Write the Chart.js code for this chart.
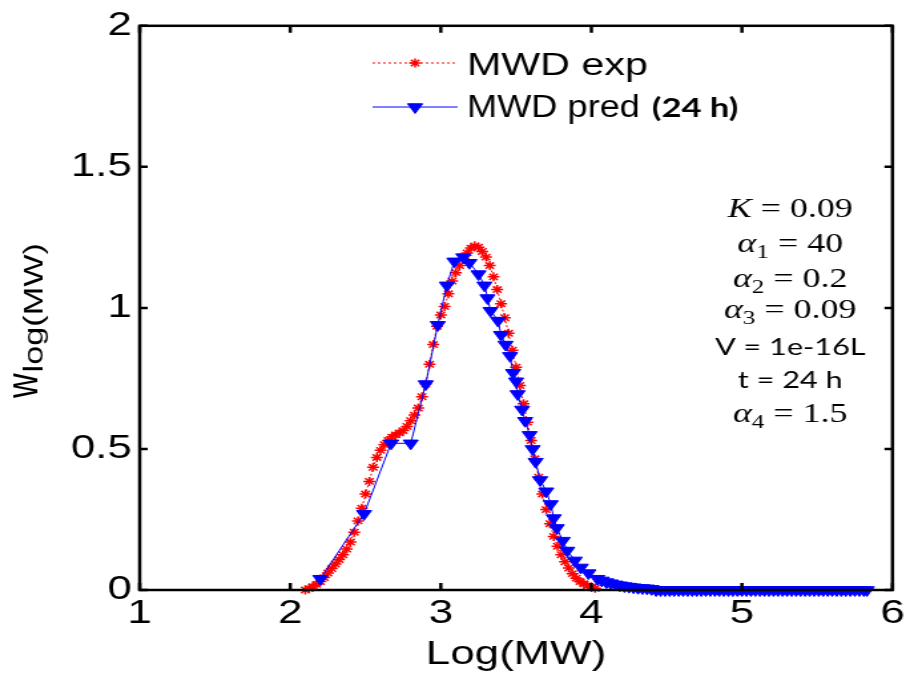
<!DOCTYPE html>
<html>
<head>
<meta charset="utf-8">
<script src="https://cdn.jsdelivr.net/npm/chart.js@4/dist/chart.umd.min.js"></script>
<style>
  html, body { margin:0; padding:0; background:#fff; overflow:hidden; }
  /* the figure is a horizontally stretched MATLAB plot: draw narrow, stretch with CSS */
  #wrap { width:684px; height:675px; transform:scaleX(1.3304); transform-origin:0 0; }
</style>
</head>
<body>
<div id="wrap"><canvas id="c"></canvas></div>
<script>
/* ── data ─────────────────────────────────────────────── */
const X_TICKS = [1, 2, 3, 4, 5, 6];
const Y_TICKS = [0, 0.5, 1, 1.5, 2];

// MWD exp (red asterisks)
const expX = [2.100,2.125,2.150,2.175,2.200,2.225,2.250,2.275,2.300,2.325,2.350,2.375,2.400,2.425,2.450,2.475,
  2.500,2.525,2.550,2.575,2.600,2.625,2.650,2.675,2.700,2.725,2.750,2.775,2.800,2.825,2.850,2.875,
  2.900,2.925,2.950,2.975,3.000,3.025,3.050,3.075,3.100,3.125,3.150,3.175,3.200,3.225,3.250,3.275,
  3.300,3.325,3.350,3.375,3.400,3.425,3.450,3.475,3.500,3.525,3.550,3.575,3.600,3.625,3.650,3.675,
  3.700,3.725,3.750,3.775,3.800,3.825,3.850,3.875,3.900,3.925,3.950,3.975,4.000,4.025];
const expY = [0.000,0.005,0.012,0.020,0.030,0.044,0.060,0.076,0.092,0.108,0.125,0.145,0.170,0.205,0.245,0.290,
  0.340,0.385,0.435,0.470,0.495,0.515,0.530,0.542,0.550,0.557,0.565,0.580,0.600,0.620,0.645,0.685,
  0.730,0.800,0.870,0.935,0.975,1.005,1.050,1.095,1.125,1.150,1.175,1.195,1.212,1.220,1.215,1.200,
  1.180,1.150,1.110,1.065,1.015,0.965,0.910,0.850,0.790,0.725,0.660,0.595,0.530,0.465,0.400,0.340,
  0.285,0.235,0.190,0.155,0.125,0.100,0.078,0.058,0.042,0.030,0.022,0.015,0.010,0.006];

// MWD pred (24 h) (blue down-triangles)
const predX = [2.20,2.49,2.67,2.80,2.90,2.98,3.04,3.09,3.15,3.19,3.25,3.29,3.31,3.33,3.38,3.40,3.43,3.46,
  3.48,3.50,3.51,3.54,3.56,3.59,3.61,3.63,3.66,3.70,3.73,3.75,3.77,3.81,3.84,3.89,3.93,3.98,4.04,
  4.07,4.10,4.13,4.16,4.19,4.22,4.25,4.28,4.31,4.34,4.37,4.40,
  4.43,4.46,4.49,4.52,4.55,4.58,4.61,4.64,4.67,4.70,4.73,4.76,4.79,4.82,4.85,4.88,4.91,4.94,4.97,
  5.00,5.03,5.06,5.09,5.12,5.15,5.18,5.21,5.24,5.27,5.30,5.33,5.36,5.39,5.42,5.45,5.48,5.51,5.54,
  5.57,5.60,5.63,5.66,5.69,5.72,5.75,5.78,5.81,5.83];
const predY = [0.04,0.27,0.52,0.52,0.73,0.94,1.08,1.165,1.18,1.16,1.12,1.08,1.035,0.99,0.955,0.905,0.87,0.83,
  0.77,0.74,0.695,0.64,0.60,0.55,0.50,0.455,0.39,0.35,0.305,0.255,0.22,0.175,0.14,0.105,0.08,0.06,0.04,
  0.034,0.028,0.024,0.020,0.017,0.014,0.012,0.010,0.008,0.007,0.006,0.004,
  0,0,0,0,0,0,0,0,0,0,0,0,0,0,0,0,0,0,0,
  0,0,0,0,0,0,0,0,0,0,0,0,0,0,0,0,0,0,0,
  0,0,0,0,0,0,0,0,0,0,0];

const RED = '#FF0000', BLUE = '#0000FF';
const SANS = '"Liberation Sans", Arial, Helvetica, sans-serif';
const SERIF = '"Liberation Serif", "Times New Roman", serif';
const CALI = 'Lato, "Open Sans", sans-serif';

const toXY = (xs, ys) => xs.map((x,i) => ({x, y:ys[i]}));

/* ── frame + inward ticks (MATLAB box) ────────────────── */
const framePlugin = {
  id:'frame',
  afterDatasetsDraw(chart){
    const { ctx, chartArea:a, scales:{x, y} } = chart;
    ctx.save();
    ctx.strokeStyle = '#000';
    ctx.lineWidth = 2.5;
    ctx.strokeRect(a.left, a.top, a.right-a.left, a.bottom-a.top);
    ctx.beginPath();
    x.ticks.forEach(t=>{
      const px = x.getPixelForValue(t.value);
      ctx.moveTo(px, a.bottom); ctx.lineTo(px, a.bottom-7);
      ctx.moveTo(px, a.top);    ctx.lineTo(px, a.top+7);
    });
    y.ticks.forEach(t=>{
      const py = y.getPixelForValue(t.value);
      ctx.moveTo(a.left, py);  ctx.lineTo(a.left+6, py);
      ctx.moveTo(a.right, py); ctx.lineTo(a.right-6, py);
    });
    ctx.stroke();
    ctx.restore();
  }
};

/* ── y title w_log(MW), legend, parameter box ─────────── */
function runs(ctx, parts, cx, base){
  // parts: [text, font, dy]
  let w = 0;
  parts.forEach(p=>{ ctx.font = p[1]; w += ctx.measureText(p[0]).width; });
  let x = cx - w/2;
  parts.forEach(p=>{ ctx.font = p[1]; ctx.fillText(p[0], x, base + (p[2]||0)); x += ctx.measureText(p[0]).width; });
}

const textPlugin = {
  id:'texts',
  afterDraw(chart){
    const ctx = chart.ctx;
    const H = Chart.helpers;
    ctx.save();
    ctx.fillStyle = '#000';
    ctx.textBaseline = 'alphabetic';

    // y axis title
    ctx.save();
    ctx.translate(27.5, 398);
    ctx.rotate(-Math.PI/2);
    ctx.font = `34px ${SANS}`;
    ctx.fillText('w', 0, 0);
    const ww = ctx.measureText('w').width;
    ctx.font = `21px ${SANS}`;
    const sw = ctx.measureText('log(MW)').width;
    ctx.translate(ww + 1, 4);
    ctx.scale((155 - ww - 1) / sw, 1);
    ctx.fillText('log(MW)', 0, 0);
    ctx.restore();

    // legend
    ctx.lineWidth = 1;
    ctx.strokeStyle = RED; ctx.setLineDash([2,2]);
    ctx.beginPath(); ctx.moveTo(280, 63); ctx.lineTo(344, 63); ctx.stroke();
    ctx.setLineDash([]);
    ctx.lineWidth = 1.5;
    H.drawPoint(ctx, {pointStyle:'star', radius:4.5, rotation:0, borderWidth:1.5}, 312, 63);
    ctx.lineWidth = 1;
    ctx.strokeStyle = BLUE;
    ctx.beginPath(); ctx.moveTo(280, 107); ctx.lineTo(344, 107); ctx.stroke();
    ctx.fillStyle = BLUE;
    H.drawPoint(ctx, {pointStyle:'triangle', radius:6.5, rotation:180, borderWidth:1}, 312, 107);
    ctx.fillStyle = '#000';
    ctx.font = `31px ${SANS}`;
    ctx.fillText('MWD exp', 351, 75);
    const pw = ctx.measureText('MWD pred').width;
    ctx.save();
    ctx.translate(351, 117);
    ctx.scale(130 / pw, 1);
    ctx.fillText('MWD pred', 0, 0);
    ctx.restore();
    ctx.font = `bold 26px ${CALI}`;
    ctx.fillText('(24 h)', 490, 117);

    // parameters
    const it = `italic 27px ${SERIF}`, rm = `27px ${SERIF}`, sb = `19px ${SERIF}`, sa = `23px ${CALI}`;
    const CX = 594;
    runs(ctx, [['K', it], [' = 0.09', rm]], CX, 217);
    runs(ctx, [['α', it], ['1', sb, 6], [' = 40', rm]], CX, 252);
    runs(ctx, [['α', it], ['2', sb, 6], [' = 0.2', rm]], CX, 287);
    runs(ctx, [['α', it], ['3', sb, 6], [' = 0.09', rm]], CX, 318);
    runs(ctx, [['V = 1e-16L', sa]], CX, 355);
    runs(ctx, [['t = 24 h', sa]], CX, 388);
    runs(ctx, [['α', it], ['4', sb, 6], [' = 1.5', rm]], CX, 422);
    ctx.restore();
  }
};

const tickFont = { family:SANS, size:33 };

new Chart(document.getElementById('c'), {
  type:'line',
  data:{
    datasets:[
      { label:'MWD exp', data:toXY(expX, expY), order:2, clip:false,
        borderColor:RED, borderWidth:1, borderDash:[2,2], backgroundColor:RED,
        pointStyle:'star', pointRadius:4.5, pointBorderWidth:1.5, pointBorderColor:RED, tension:0 },
      { label:'MWD pred (24 h)', data:toXY(predX, predY), order:1, clip:false,
        borderColor:BLUE, borderWidth:1, backgroundColor:BLUE,
        pointStyle:'triangle', pointRotation:180, pointRadius:6.5, pointBorderWidth:1,
        pointBorderColor:BLUE, pointBackgroundColor:BLUE, tension:0 }
    ]
  },
  plugins:[framePlugin, textPlugin],
  options:{
    responsive:true, maintainAspectRatio:false, animation:false,
    layout:{ padding:{ top:21, right:10, bottom:0, left:0 } },
    plugins:{ legend:{display:false}, tooltip:{enabled:false} },
    scales:{
      x:{
        type:'linear', min:1, max:6,
        afterBuildTicks: s => { s.ticks = X_TICKS.map(v=>({value:v})); },
        afterFit: s => { s.height = 85; },
        grid:{ display:false, drawTicks:false }, border:{ display:false },
        ticks:{ font:tickFont, color:'#000', padding:4, maxRotation:0, autoSkip:false },
        title:{ display:true, text:'Log(MW)', font:tickFont, color:'#000', padding:0 }
      },
      y:{
        type:'linear', min:0, max:2,
        afterBuildTicks: s => { s.ticks = Y_TICKS.map(v=>({value:v})); },
        afterFit: s => { s.width = 105; },
        grid:{ display:false, drawTicks:false }, border:{ display:false },
        ticks:{ font:tickFont, color:'#000', padding:6, callback:v=>String(v) }
      }
    }
  }
});
</script>
</body>
</html>
